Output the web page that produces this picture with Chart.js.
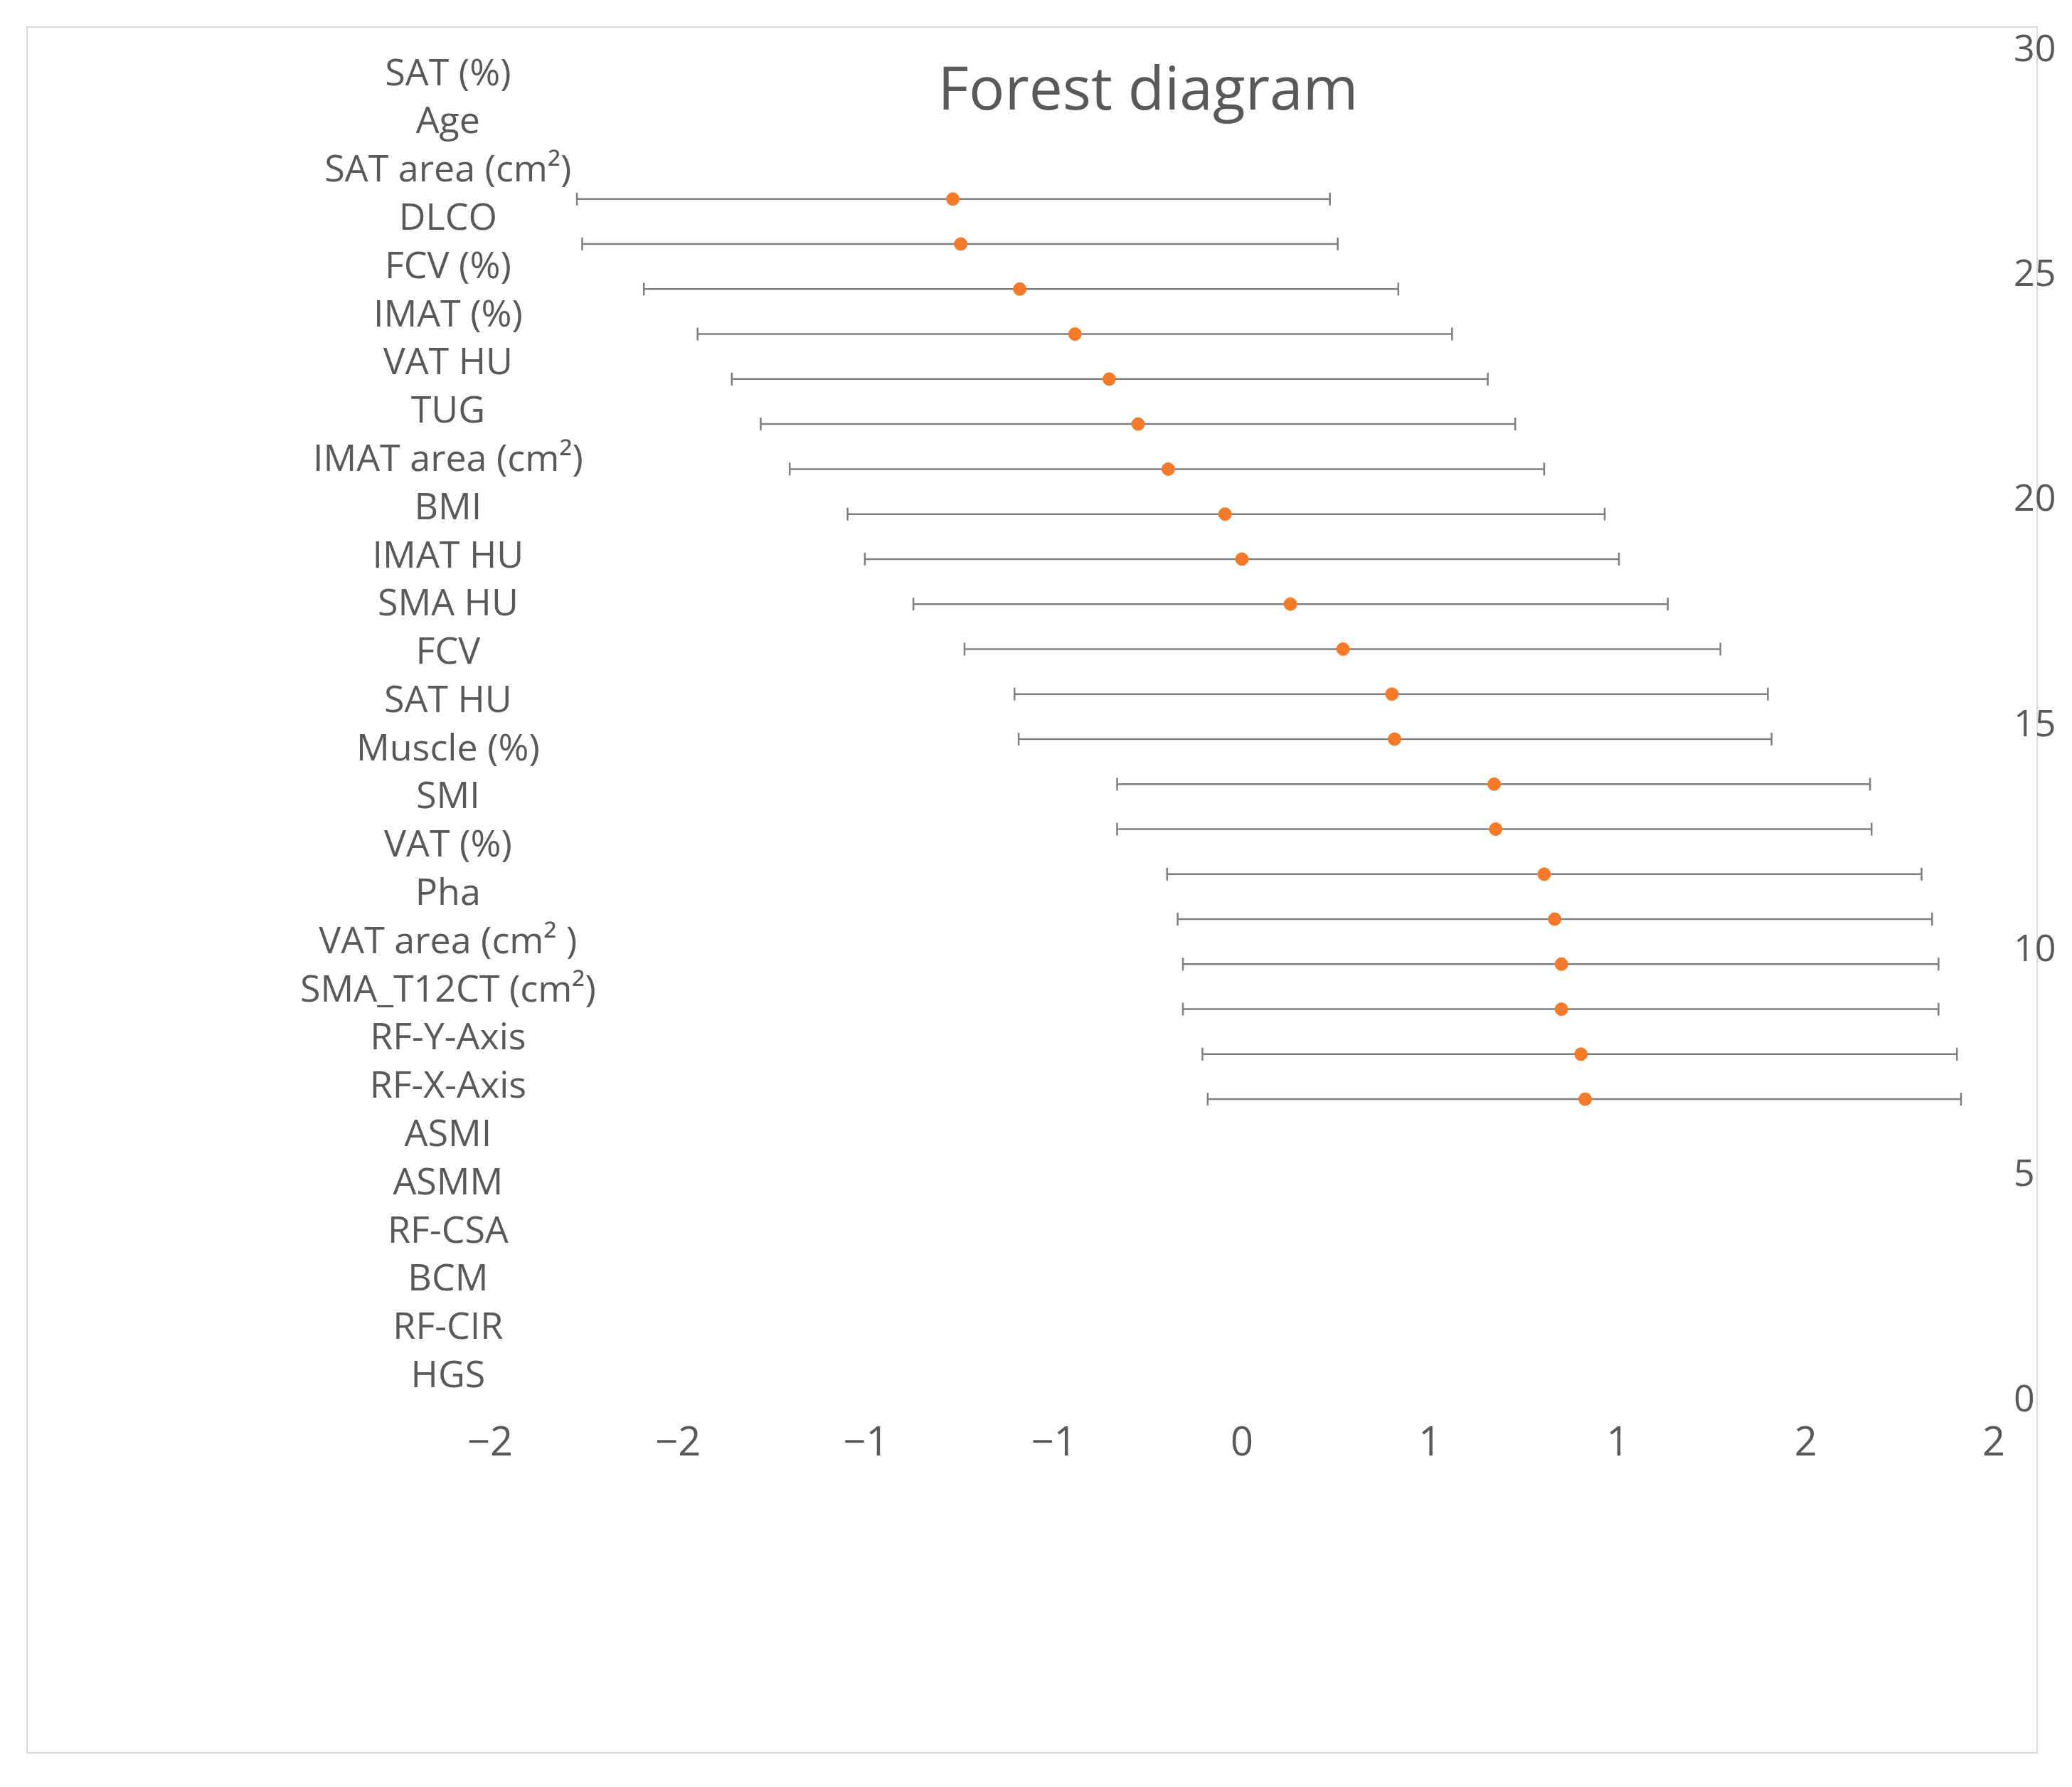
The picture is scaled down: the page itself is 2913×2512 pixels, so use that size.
<!DOCTYPE html>
<html><head><meta charset="utf-8">
<script src="https://cdn.jsdelivr.net/npm/chart.js@4/dist/chart.umd.min.js"></script>
<style>
html,body{margin:0;padding:0;background:#fff;}
#wrap{position:relative;width:2913px;height:2512px;}
#frame{position:absolute;left:37px;top:37px;width:2828px;height:2428px;border:2px solid #d9d9d9;box-sizing:border-box;}
#title{position:absolute;left:1614px;top:121px;transform:translate(-50%,-50%);font-family:"Open Sans",sans-serif;font-size:84px;color:#595959;white-space:nowrap;}
canvas{position:absolute;left:0;top:0;}
</style></head><body>
<div id="wrap"><div id="frame"></div><canvas id="c" width="2913" height="2512"></canvas><div id="title">Forest diagram</div></div>
<script>
const categories=["SAT (%)","Age","SAT area (cm²)","DLCO","FCV (%)","IMAT (%)","VAT HU","TUG","IMAT area (cm²)","BMI","IMAT HU","SMA HU","FCV","SAT HU","Muscle (%)","SMI","VAT (%)","Pha","VAT area (cm² )","SMA_T12CT (cm²)","RF-Y-Axis","RF-X-Axis","ASMI","ASMM","RF-CSA","BCM","RF-CIR","HGS"];
const yPos=[26.7,25.7,24.7,23.7,22.7,21.7,20.7,19.7,18.7,17.7,16.7,15.7,14.7,13.7,12.7,11.7,10.7,9.7,8.7,7.7,6.7];
const estimates=[-0.769,-0.748,-0.591,-0.444,-0.353,-0.276,-0.196,-0.045,0.0,0.129,0.269,0.399,0.406,0.671,0.675,0.804,0.832,0.850,0.850,0.902,0.913];
const lower=[-1.769,-1.755,-1.591,-1.448,-1.357,-1.280,-1.203,-1.049,-1.003,-0.874,-0.738,-0.605,-0.594,-0.332,-0.332,-0.199,-0.171,-0.157,-0.157,-0.105,-0.091];
const upper=[0.234,0.255,0.416,0.559,0.654,0.727,0.804,0.965,1.003,1.133,1.273,1.399,1.409,1.671,1.675,1.808,1.836,1.853,1.853,1.902,1.913];
const xTicks=[-2,-1.5,-1,-0.5,0,0.5,1,1.5,2];
const yTicks=[0,5,10,15,20,25,30];

const gray="#7f7f7f", txt="#595959", font="'Open Sans', sans-serif";
const datasets=[];
yPos.forEach((y,i)=>{
  datasets.push({type:'line',data:[{x:lower[i],y},{x:upper[i],y}],borderColor:gray,borderWidth:2.5,
    pointStyle:'line',rotation:90,pointRadius:9,pointBorderColor:gray,pointBorderWidth:2.5,yAxisID:'y',order:2});
});
datasets.push({type:'scatter',data:yPos.map((y,i)=>({x:estimates[i],y})),backgroundColor:'#f47a2a',borderColor:'#f47a2a',pointRadius:9,yAxisID:'y',order:1});

new Chart(document.getElementById('c'),{
  data:{labels:categories,datasets},
  options:{responsive:false,animation:false,
    layout:{padding:{left:489,right:0,top:71,bottom:443}},
    plugins:{legend:{display:false},tooltip:{enabled:false}},
    scales:{
      x:{type:'linear',min:-2,max:2,afterBuildTicks:s=>{s.ticks=xTicks.map(v=>({value:v}));},
        grid:{display:false},border:{display:false},
        afterFit:s=>{s.height=100;},
        ticks:{padding:19,color:txt,font:{family:font,size:56},
          callback:v=>{const r=Math.sign(v)*Math.round(Math.abs(v));return r<0?'\u2212'+Math.abs(r):String(r);}}},
      y:{type:'linear',position:'right',min:0,max:30,afterBuildTicks:s=>{s.ticks=yTicks.map(v=>({value:v}));},
        grid:{display:false},border:{display:false},afterFit:s=>{s.width=110;},
        ticks:{padding:20,color:txt,font:{family:font,size:52}}},
      y2:{type:'category',position:'left',labels:categories,offset:true,
        grid:{display:false,drawTicks:false},border:{display:false},afterFit:s=>{s.width=200;},
        ticks:{mirror:true,crossAlign:'center',padding:-267,color:txt,font:{family:font,size:52},autoSkip:false}}
    }
  }
});
</script></body></html>
